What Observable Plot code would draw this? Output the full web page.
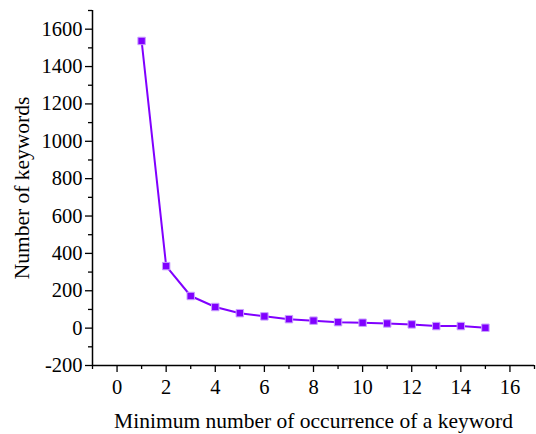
<!DOCTYPE html>
<html><head><meta charset="utf-8">
<script src="https://cdn.jsdelivr.net/npm/d3@7"></script>
<script src="https://cdn.jsdelivr.net/npm/@observablehq/plot@0.6"></script>
<style>body{margin:0;background:#fff}</style>
</head><body><div id="chart"></div>
<script>
const minOccurrence = [1,2,3,4,5,6,7,8,9,10,11,12,13,14,15];
const keywordCounts = [1537,332,172,113,80,63,48,40,32,29,25,20,11,11,2];
const xMajorTicks = [0,2,4,6,8,10,12,14,16];
const xMinorTicks = [-1,1,3,5,7,9,11,13,15,17];
const yMajorTicks = [-200,0,200,400,600,800,1000,1200,1400,1600];
const yMinorTicks = [-100,100,300,500,700,900,1100,1300,1500,1700];
const xTitle = "Minimum number of occurrence of a keyword";
const yTitle = "Number of keywords";

const data = minOccurrence.map((x,i)=>({x, y: keywordCounts[i]}));
const font = "'Liberation Serif', 'Times New Roman', serif";
const fmt = d => String(d);

const chart = Plot.plot({
  width: 536, height: 434,
  marginLeft: 92, marginTop: 10, marginBottom: 69, marginRight: 2,
  style: {fontFamily: font, fontSize: "20px", color: "#000", background: "#fff"},
  x: {domain: [-1, 17]},
  y: {domain: [-200, 1700]},
  marks: [
    Plot.axisX({ticks: xMajorTicks, tickSize: 7, tickFormat: () => "", label: null, stroke: "#000", strokeWidth: 1.3}),
    Plot.axisX({ticks: xMinorTicks, tickSize: 4, tickFormat: () => "", label: null, stroke: "#000", strokeWidth: 1.3}),
    Plot.axisY({ticks: yMajorTicks, tickSize: 7, tickFormat: () => "", label: null, stroke: "#000", strokeWidth: 1.3}),
    Plot.axisY({ticks: yMinorTicks, tickSize: 4, tickFormat: () => "", label: null, stroke: "#000", strokeWidth: 1.3}),
    Plot.text(xMajorTicks, {x: d => d, text: fmt, frameAnchor: "bottom", lineAnchor: "top", dy: 14, fontSize: 20.5, fontFamily: font, fill: "#000"}),
    Plot.text(yMajorTicks, {y: d => d, text: fmt, frameAnchor: "left", textAnchor: "end", dx: -10, fontSize: 20.5, fontFamily: font, fill: "#000"}),
    Plot.ruleX([-1], {stroke: "#000", strokeWidth: 1.5}),
    Plot.ruleY([-200], {stroke: "#000", strokeWidth: 1.5}),
    Plot.line(data, {x: "x", y: "y", stroke: "#8000ff", strokeWidth: 2}),
    Plot.dot(data, {x: "x", y: "y", symbol: "square", r: 4.2, fill: "#8000ff", stroke: "#c9a0ff", strokeWidth: 1}),
    Plot.text([xTitle], {frameAnchor: "bottom", dy: 62, fontSize: 21.5, fontFamily: font, fill: "#000"}),
    Plot.text([yTitle], {frameAnchor: "left", textAnchor: "middle", dx: -70, rotate: -90, fontSize: 21.5, fontFamily: font, fill: "#000"})
  ]
});
document.getElementById("chart").append(chart);
</script>
</body></html>
